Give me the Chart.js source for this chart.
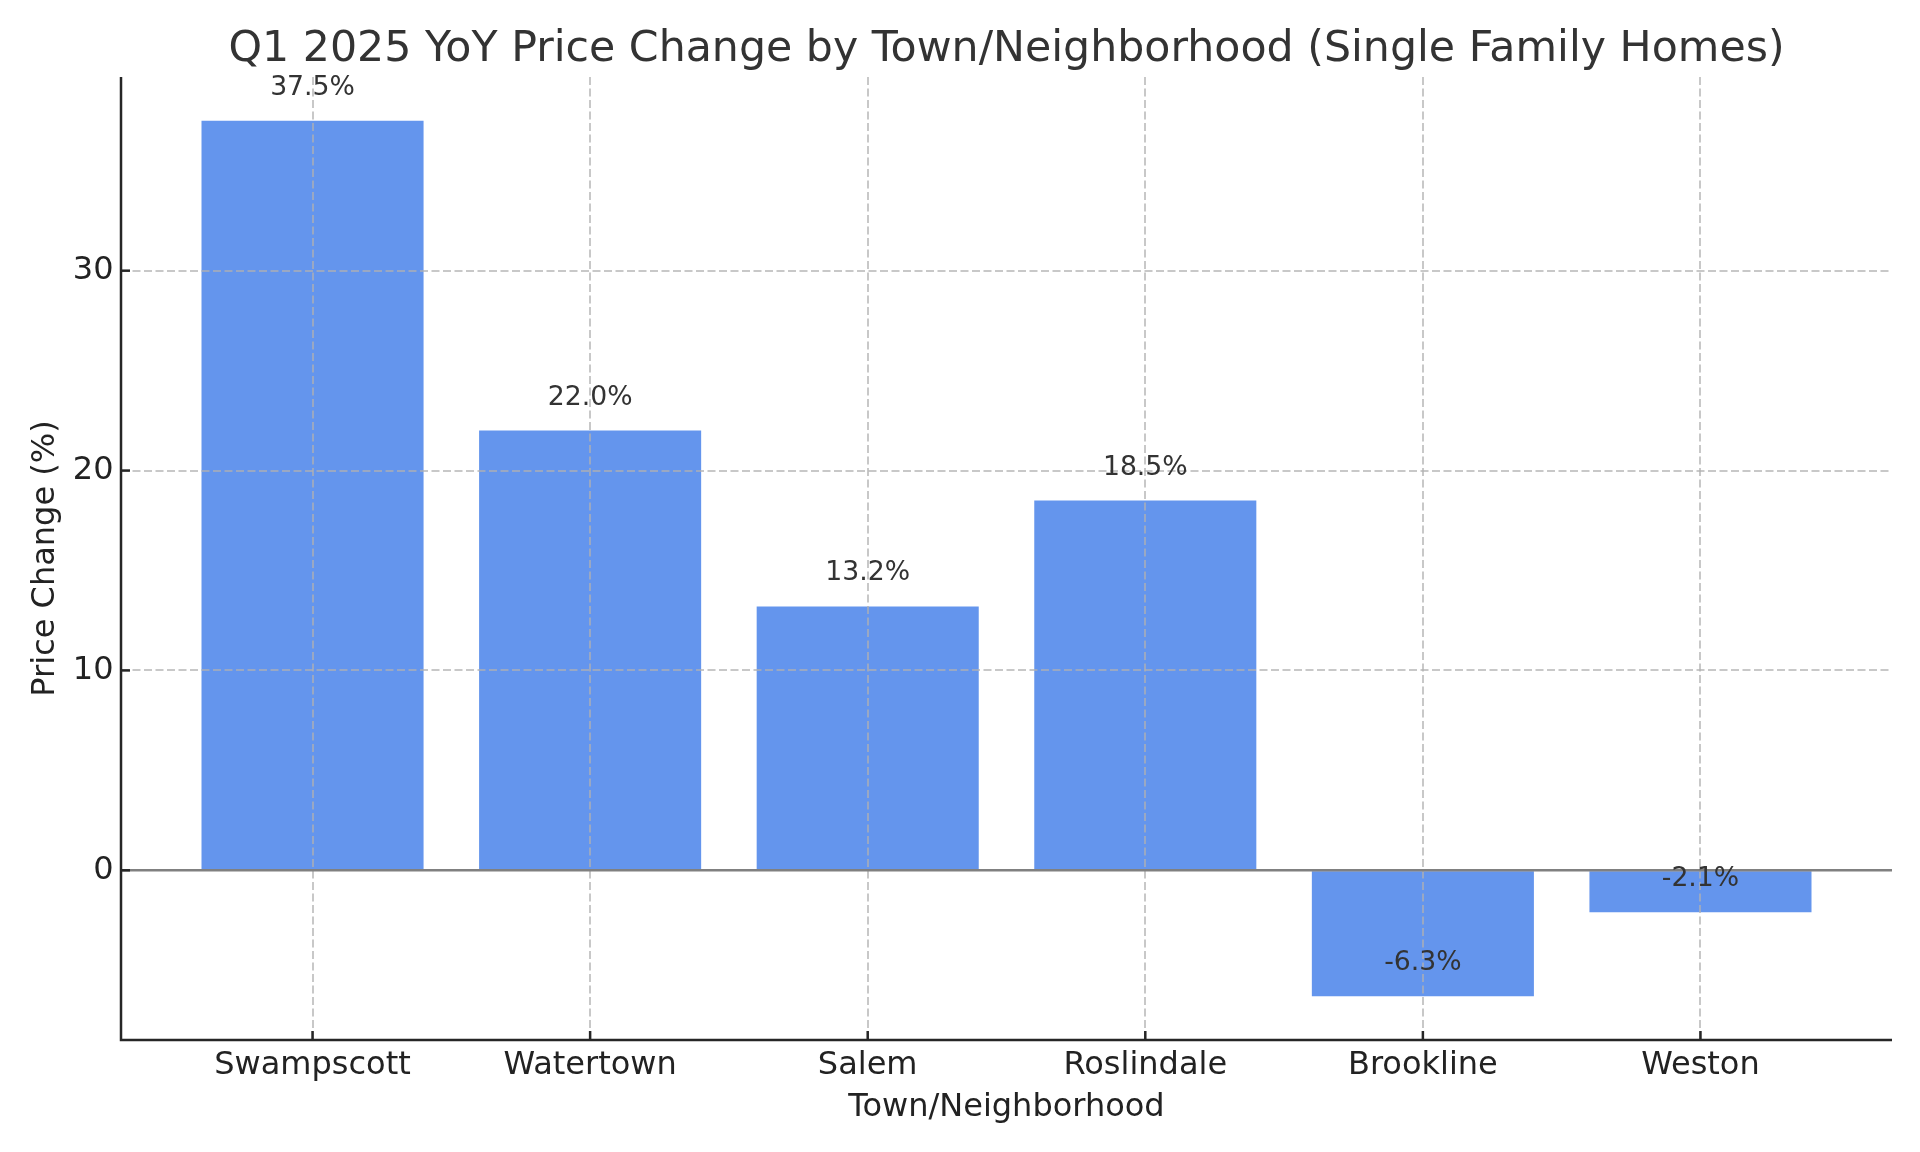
<!DOCTYPE html>
<html>
<head>
<meta charset="utf-8">
<script src="https://cdn.jsdelivr.net/npm/chart.js@4.4.1/dist/chart.umd.min.js"></script>
<style>
  html, body { margin: 0; padding: 0; background: #fff; }
  #wrap { width: 1920px; height: 1152px; }
</style>
</head>
<body>
<div id="wrap"><canvas id="barChart" width="1920" height="1152"></canvas></div>
<script>
// data
const towns = ['Swampscott', 'Watertown', 'Salem', 'Roslindale', 'Brookline', 'Weston'];
const yoyChange = [37.5, 22.0, 13.2, 18.5, -6.3, -2.1];
const yTicks = [0, 10, 20, 30];

const chartTitle = 'Q1 2025 YoY Price Change by Town/Neighborhood (Single Family Homes)';
const FONT = "'DejaVu Sans', sans-serif";

// axis limits like matplotlib's 5% auto margins
const barWidth = 0.8;
const xSpan = (towns.length - 1) + barWidth;
const xMin = -barWidth / 2 - 0.05 * xSpan;
const xMax = (towns.length - 1) + barWidth / 2 + 0.05 * xSpan;
const dataMin = Math.min(0, ...yoyChange);
const dataMax = Math.max(0, ...yoyChange);
const yPad = 0.05 * (dataMax - dataMin);

// spines, inward ticks, zero line, value labels and the title
const extras = {
    id: 'extras',
    afterDraw(chart) {
        const ctx = chart.ctx;
        const area = chart.chartArea;
        const x = chart.scales.x;
        const y = chart.scales.y;

        ctx.save();
        // zero line
        const y0 = y.getPixelForValue(0);
        ctx.strokeStyle = '#808080';
        ctx.lineWidth = 2.5;
        ctx.beginPath();
        ctx.moveTo(area.left, y0);
        ctx.lineTo(area.right, y0);
        ctx.stroke();

        // left + bottom spines
        ctx.strokeStyle = '#262626';
        ctx.lineWidth = 2.5;
        ctx.beginPath();
        ctx.moveTo(area.left, area.top);
        ctx.lineTo(area.left, area.bottom);
        ctx.lineTo(area.right, area.bottom);
        ctx.stroke();

        // tick marks
        y.ticks.forEach((t, i) => {
            const py = y.getPixelForTick(i);
            ctx.beginPath();
            ctx.moveTo(area.left, py);
            ctx.lineTo(area.left + 9, py);
            ctx.stroke();
        });
        x.ticks.forEach((t, i) => {
            const px = x.getPixelForTick(i);
            ctx.beginPath();
            ctx.moveTo(px, area.bottom);
            ctx.lineTo(px, area.bottom - 9);
            ctx.stroke();
        });

        // value labels, bottom at value + 1
        ctx.fillStyle = '#333';
        ctx.font = '26.7px ' + FONT;
        ctx.textAlign = 'center';
        ctx.textBaseline = 'alphabetic';
        yoyChange.forEach((v, i) => {
            const px = x.getPixelForValue(i);
            const py = y.getPixelForValue(v + 1) - 6;
            ctx.fillText(v.toFixed(1) + '%', px, py);
        });

        // title
        ctx.fillStyle = '#333';
        ctx.font = '42.7px ' + FONT;
        ctx.textBaseline = 'middle';
        ctx.fillText(chartTitle, (area.left + area.right) / 2, 50);
        ctx.restore();
    }
};

const ctx = document.getElementById('barChart').getContext('2d');

const chartData = {
    datasets: [{
        label: 'YoY Change',
        data: towns.map((t, i) => ({ x: i, y: yoyChange[i] })),
        backgroundColor: '#6495ED',
        borderWidth: 0,
        barPercentage: barWidth,
        categoryPercentage: 1.0
    }]
};

const config = {
    type: 'bar',
    data: chartData,
    options: {
        responsive: false,
        animation: false,
        devicePixelRatio: 1,
        layout: { padding: { top: 77, right: 28, left: 0, bottom: 0 } },
        plugins: {
            legend: { display: false },
            tooltip: { enabled: false }
        },
        scales: {
            x: {
                type: 'linear',
                offset: false,
                min: xMin,
                max: xMax,
                afterBuildTicks: (scale) => {
                    scale.ticks = towns.map((t, i) => ({ value: i }));
                },
                afterFit: (scale) => { scale.height = 112; },
                ticks: {
                    padding: 6.5,
                    color: '#222',
                    font: { family: FONT, size: 32 },
                    callback: (value) => towns[value]
                },
                grid: {
                    offset: false,
                    drawTicks: false,
                    color: 'rgba(176,176,176,0.7)',
                    lineWidth: 2,
                    z: 1
                },
                border: { display: false, dash: [8, 3.5] },
                title: {
                    display: true,
                    text: 'Town/Neighborhood',
                    color: '#222',
                    font: { family: FONT, size: 32 },
                    padding: { top: 0, bottom: 25.5 }
                }
            },
            y: {
                min: dataMin - yPad,
                max: dataMax + yPad,
                afterBuildTicks: (scale) => {
                    scale.ticks = yTicks.map(v => ({ value: v }));
                },
                afterFit: (scale) => { scale.width = 121; },
                ticks: {
                    padding: 7.5,
                    color: '#222',
                    font: { family: FONT, size: 32 }
                },
                grid: {
                    drawTicks: false,
                    color: 'rgba(176,176,176,0.7)',
                    lineWidth: 2,
                    z: 1
                },
                border: { display: false, dash: [8, 3.5] },
                title: {
                    display: true,
                    text: 'Price Change (%)',
                    color: '#222',
                    font: { family: FONT, size: 32 },
                    padding: { top: 26, bottom: 0 }
                }
            }
        }
    },
    plugins: [extras]
};

new Chart(ctx, config);
</script>
</body>
</html>
